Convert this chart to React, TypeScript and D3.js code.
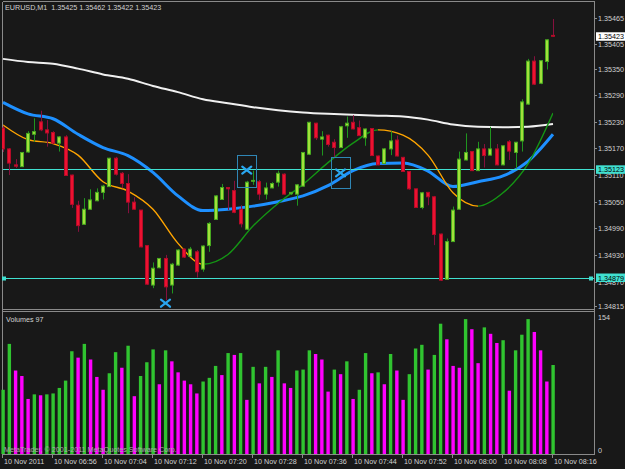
import React from 'react';
import * as d3 from 'd3';

const symbol = 'EURUSD,M1';
const timeTickBars = [0, 8, 16, 24, 32, 40, 48, 56, 64, 72, 80, 88];
const timeTickLabels = ['10 Nov 2011', '10 Nov 06:56', '10 Nov 07:04', '10 Nov 07:12', '10 Nov 07:20', '10 Nov 07:28',
  '10 Nov 07:36', '10 Nov 07:44', '10 Nov 07:52', '10 Nov 08:00', '10 Nov 08:08', '10 Nov 08:16'];
const priceTicks = [1.35465, 1.35405, 1.3535, 1.3529, 1.3523, 1.3517, 1.3511, 1.3505, 1.3499, 1.3493, 1.3487, 1.34815];
const volumeMax = 154;

const opens = [
  1.35216, 1.35169, 1.35133, 1.35129, 1.35162, 1.35202, 1.35230, 1.35212, 1.35206, 1.35182,
  1.35196, 1.35110, 1.35042, 1.34999, 1.35033, 1.35052, 1.35071, 1.35084, 1.35148, 1.35114,
  1.35091, 1.35049, 1.35031, 1.34951, 1.34862, 1.34901, 1.34922, 1.34862, 1.34907, 1.34943,
  1.34927, 1.34937, 1.34898, 1.34951, 1.35010, 1.35055, 1.35082, 1.35075, 1.35033, 1.34988,
  1.35096, 1.35095, 1.35067, 1.35081, 1.35094, 1.35112, 1.35068, 1.35067, 1.35085, 1.35157,
  1.35227, 1.35191, 1.35200, 1.35184, 1.35172, 1.35221, 1.35229, 1.35217, 1.35194, 1.35215,
  1.35153, 1.35136, 1.35169, 1.35189, 1.35150, 1.35118, 1.35079, 1.35037, 1.35071, 1.35061,
  1.34977, 1.34875, 1.34960, 1.35033, 1.35144, 1.35163, 1.35120, 1.35169, 1.35155, 1.35169,
  1.35133, 1.35185, 1.35161, 1.35187, 1.35270, 1.35367, 1.35317, 1.35366, 1.35425,
];
const highs = [
  1.35221, 1.35171, 1.35146, 1.35162, 1.35209, 1.35238, 1.35255, 1.35234, 1.35209, 1.35198,
  1.35200, 1.35111, 1.35052, 1.35058, 1.35078, 1.35080, 1.35088, 1.35149, 1.35151, 1.35117,
  1.35112, 1.35060, 1.35031, 1.34951, 1.34913, 1.34923, 1.34930, 1.34912, 1.34943, 1.34945,
  1.34948, 1.34941, 1.34952, 1.35004, 1.35065, 1.35090, 1.35083, 1.35097, 1.35042, 1.35097,
  1.35120, 1.35099, 1.35093, 1.35094, 1.35120, 1.35114, 1.35072, 1.35090, 1.35162, 1.35230,
  1.35228, 1.35209, 1.35201, 1.35191, 1.35221, 1.35242, 1.35245, 1.35233, 1.35215, 1.35216,
  1.35154, 1.35171, 1.35209, 1.35199, 1.35151, 1.35119, 1.35079, 1.35072, 1.35072, 1.35063,
  1.34978, 1.34967, 1.35039, 1.35163, 1.35204, 1.35164, 1.35185, 1.35180, 1.35219, 1.35180,
  1.35177, 1.35189, 1.35185, 1.35281, 1.35372, 1.35378, 1.35369, 1.35416, 1.35462,
];
const lows = [
  1.35162, 1.35110, 1.35126, 1.35128, 1.35160, 1.35185, 1.35209, 1.35174, 1.35180, 1.35163,
  1.35108, 1.35036, 1.34982, 1.34998, 1.35032, 1.35051, 1.35055, 1.35083, 1.35109, 1.35080,
  1.35024, 1.35032, 1.34947, 1.34862, 1.34855, 1.34900, 1.34828, 1.34843, 1.34905, 1.34923,
  1.34926, 1.34879, 1.34892, 1.34937, 1.35009, 1.35054, 1.35031, 1.35024, 1.34992, 1.34986,
  1.35088, 1.35054, 1.35055, 1.35080, 1.35084, 1.35066, 1.35065, 1.35041, 1.35084, 1.35155,
  1.35189, 1.35154, 1.35174, 1.35151, 1.35171, 1.35194, 1.35213, 1.35198, 1.35176, 1.35153,
  1.35132, 1.35135, 1.35155, 1.35152, 1.35117, 1.35077, 1.35036, 1.35033, 1.35042, 1.34952,
  1.34871, 1.34874, 1.34959, 1.35032, 1.35143, 1.35119, 1.35119, 1.35127, 1.35154, 1.35132,
  1.35132, 1.35144, 1.35125, 1.35163, 1.35268, 1.35313, 1.35315, 1.35348, 1.35422,
];
const closes = [
  1.35169, 1.35137, 1.35130, 1.35161, 1.35204, 1.35208, 1.35212, 1.35205, 1.35182, 1.35196,
  1.35109, 1.35044, 1.34996, 1.35033, 1.35054, 1.35071, 1.35085, 1.35148, 1.35112, 1.35091,
  1.35049, 1.35033, 1.34948, 1.34864, 1.34900, 1.34922, 1.34858, 1.34909, 1.34941, 1.34925,
  1.34943, 1.34892, 1.34950, 1.35001, 1.35063, 1.35082, 1.35079, 1.35026, 1.35000, 1.35094,
  1.35098, 1.35067, 1.35081, 1.35091, 1.35114, 1.35067, 1.35071, 1.35088, 1.35161, 1.35229,
  1.35194, 1.35196, 1.35179, 1.35172, 1.35219, 1.35227, 1.35214, 1.35199, 1.35214, 1.35154,
  1.35133, 1.35169, 1.35187, 1.35153, 1.35118, 1.35079, 1.35037, 1.35070, 1.35061, 1.34976,
  1.34873, 1.34960, 1.35031, 1.35146, 1.35161, 1.35120, 1.35169, 1.35154, 1.35169, 1.35133,
  1.35176, 1.35164, 1.35184, 1.35275, 1.35367, 1.35315, 1.35368, 1.35415, 1.35423,
];
const volumes = [
  70, 120, 91, 85, 60, 65, 64, 65, 66, 72,
  80, 112, 105, 120, 103, 84, 70, 88, 111, 94,
  118, 63, 85, 100, 114, 76, 113, 101, 89, 80,
  76, 66, 79, 83, 96, 86, 110, 108, 110, 59,
  95, 77, 95, 84, 113, 77, 72, 91, 92, 113,
  109, 103, 68, 92, 87, 101, 60, 70, 110, 88,
  89, 76, 109, 91, 59, 87, 115, 119, 92, 108,
  142, 125, 96, 94, 147, 136, 99, 138, 131, 121,
  124, 69, 113, 130, 147, 133, 113, 79, 97,
];

// moving averages read every 4 bars
const maBars = [0, 4, 8, 12, 16, 20, 24, 28, 32, 36, 40, 44, 48, 52, 56, 60, 64, 68, 72, 76, 80, 84, 88];
const maSlow = [1.35372, 1.35365, 1.35361, 1.35350, 1.35337, 1.35327, 1.35311, 1.35297, 1.35281, 1.35272, 1.35263, 1.35256,
  1.35251, 1.35248, 1.35246, 1.35244, 1.35242, 1.35235, 1.35224, 1.35219, 1.35218, 1.35219, 1.35225];
const maMid = [1.35274, 1.35248, 1.35237, 1.35202, 1.35172, 1.35154, 1.35116, 1.35063, 1.35030, 1.35033, 1.35040, 1.35050,
  1.35063, 1.35086, 1.35120, 1.35136, 1.35137, 1.35119, 1.35084, 1.35095, 1.35108, 1.35141, 1.35202];
const maFast = [1.35223, 1.35190, 1.35181, 1.35155, 1.35095, 1.35074, 1.35033, 1.34956, 1.34909, 1.34931, 1.34995, 1.35046,
  1.35089, 1.35138, 1.35182, 1.35212, 1.35200, 1.35155, 1.35070, 1.35040, 1.35070, 1.35135, 1.35250];

const levels = [1.35123, 1.34879];
const arrowMarks = [
  { bar: 26, price: 1.34821 },
  { bar: 39, price: 1.35121 },
  { bar: 54, price: 1.35115 },
];
const boxes = [
  { from: 37.5, to: 40.5, top: 1.35155, bottom: 1.35082 },
  { from: 52.5, to: 55.5, top: 1.35151, bottom: 1.35080 },
];

const W = 625;
const H = 469;
const BG = '#181818';
const FRAME = '#8a8a8a';
const TXT = '#d2d2d2';
const FONT = 'Liberation Sans, Arial, sans-serif';
const FS = 7.2;
const AXIS_X = 594.5;
const MAIN_TOP = 3;
const MAIN_BOTTOM = 309;
const VOL_TOP = 311;
const VOL_BOTTOM = 454;

const App = () => {
  const x = d3.scaleLinear().domain([0, 88]).range([3, 553]);
  const y = d3.scaleLinear().domain([1.34808, 1.35498]).range([MAIN_BOTTOM, MAIN_TOP]);
  const yv = d3.scaleLinear().domain([0, volumeMax]).range([VOL_BOTTOM, 312.7]);

  const maLine = d3.line<number>()
    .x((_, k) => x(maBars[k]))
    .y((v) => y(v))
    .curve(d3.curveMonotoneX);

  // split fast MA into rising / falling runs
  const runs: { from: number; to: number; up: boolean }[] = [];
  let start = 0;
  for (let k = 1; k < maFast.length; k++) {
    const up = maFast[k] >= maFast[k - 1];
    const nextUp = k + 1 < maFast.length ? maFast[k + 1] >= maFast[k] : null;
    if (nextUp === null || nextUp !== up) {
      runs.push({ from: start, to: k, up });
      start = k;
    }
  }

  const last = opens.length - 1;
  const title = `${symbol}  ${opens[last].toFixed(5)} ${highs[last].toFixed(5)} ${lows[last].toFixed(5)} ${closes[last].toFixed(5)}`;

  return (
    <svg width={W} height={H} style={{ position: 'absolute', left: 0, top: 0, display: 'block' }}
      fontFamily={FONT} fontSize={FS}>
      <defs>
        <clipPath id="mainClip">
          <rect x={2} y={MAIN_TOP} width={AXIS_X - 2} height={MAIN_BOTTOM - MAIN_TOP} />
        </clipPath>
        {runs.map((r, i) => (
          <clipPath key={i} id={`run${i}`}>
            <rect x={x(maBars[r.from])} y={0} width={x(maBars[r.to]) - x(maBars[r.from])} height={MAIN_BOTTOM} />
          </clipPath>
        ))}
      </defs>
      <rect width={W} height={H} fill={BG} />

      {/* frame */}
      <g stroke={FRAME} strokeWidth={1} shapeRendering="crispEdges" fill="none">
        <line x1={2.5} x2={AXIS_X} y1={1.5} y2={1.5} />
        <line x1={2.5} x2={2.5} y1={1.5} y2={VOL_BOTTOM + 0.5} />
        <line x1={AXIS_X} x2={AXIS_X} y1={1.5} y2={VOL_BOTTOM + 0.5} />
        <line x1={2.5} x2={AXIS_X} y1={MAIN_BOTTOM + 0.5} y2={MAIN_BOTTOM + 0.5} />
        <line x1={2.5} x2={AXIS_X} y1={VOL_TOP + 0.5} y2={VOL_TOP + 0.5} />
        <line x1={2.5} x2={AXIS_X} y1={VOL_BOTTOM + 0.5} y2={VOL_BOTTOM + 0.5} />
      </g>

      <g clipPath="url(#mainClip)">
        {/* moving averages */}
        <path d={maLine(maSlow) || ''} fill="none" stroke="#f0f0f0" strokeWidth={2} />
        <path d={maLine(maMid) || ''} fill="none" stroke="#1e90ff" strokeWidth={3} />
        {runs.map((r, i) => (
          <path key={i} d={maLine(maFast) || ''} clipPath={`url(#run${i})`} fill="none"
            stroke={r.up ? '#149414' : '#ffa500'} strokeWidth={1.4} />
        ))}

        {/* horizontal levels */}
        {levels.map((p) => (
          <line key={p} x1={3} x2={AXIS_X} y1={Math.round(y(p)) + 0.5} y2={Math.round(y(p)) + 0.5}
            stroke="#40e0d0" strokeWidth={1} />
        ))}
        <rect x={2} y={Math.round(y(levels[1])) - 1.5} width={4} height={4} fill="#40e0d0" />
        <rect x={589} y={Math.round(y(levels[1])) - 1.5} width={4} height={4} fill="#40e0d0" />

        {/* candles */}
        {opens.map((o, i) => {
          const c = closes[i];
          const up = c >= o;
          const cx = Math.round(x(i));
          const top = y(Math.max(o, c));
          const bot = y(Math.min(o, c));
          return (
            <g key={i}>
              <line x1={cx + 0.5} x2={cx + 0.5} y1={y(highs[i])} y2={y(lows[i])}
                stroke={up ? '#1f951f' : '#86103e'} strokeWidth={1} />
              <rect x={cx - 1.5} y={top} width={3} height={Math.max(bot - top, 0.6)}
                fill={up ? '#a2e03c' : '#ec1230'} stroke={up ? '#47a81f' : '#b30b28'} strokeWidth={1} />
            </g>
          );
        })}

        {/* boxes and arrows */}
        {boxes.map((b, i) => (
          <rect key={i} x={Math.round(x(b.from)) + 0.5} y={Math.round(y(b.top)) + 0.5}
            width={Math.round(x(b.to) - x(b.from))} height={Math.round(y(b.bottom) - y(b.top))}
            fill="none" stroke="#2f86b5" strokeWidth={1} />
        ))}
        {arrowMarks.map((m, i) => {
          const mx = x(m.bar);
          const my = y(m.price);
          return (
            <g key={i} stroke="#2aa6f0" strokeWidth={2.2} strokeLinecap="round">
              <line x1={mx - 4.5} y1={my - 3.5} x2={mx + 4.5} y2={my + 3.5} />
              <line x1={mx - 4.5} y1={my + 3.5} x2={mx + 4.5} y2={my - 3.5} />
            </g>
          );
        })}
      </g>

      {/* volumes */}
      {volumes.map((v, i) => {
        const up = i === 0 || v > volumes[i - 1];
        const cx = x(i);
        return (
          <rect key={i} x={cx - 1.6} y={yv(v)} width={3.4} height={yv(0) - yv(v)}
            fill={up ? '#30c430' : '#ff00ff'} />
        );
      })}

      {/* texts */}
      <text x={5} y={10.3} fill={TXT} style={{ whiteSpace: 'pre' }}>{title}</text>
      <text x={6} y={322} fill={TXT}>{`Volumes ${volumes[last]}`}</text>
      <text x={4} y={451.5} fill="#a9a9a9">MetaTrader, © 2001-2011 MetaQuotes Software Corp.</text>

      {/* price axis */}
      {priceTicks.map((p) => (
        <g key={p}>
          <line x1={AXIS_X} x2={597} y1={Math.round(y(p)) + 0.5} y2={Math.round(y(p)) + 0.5} stroke={FRAME} />
          <text x={598} y={y(p) + 3} fill={TXT}>{p.toFixed(5)}</text>
        </g>
      ))}
      {levels.map((p) => (
        <g key={p}>
          <rect x={596} y={y(p) - 4} width={29} height={8.5} fill="#40e0d0" />
          <text x={598} y={y(p) + 3} fill="#000">{p.toFixed(5)}</text>
        </g>
      ))}
      <rect x={596} y={y(closes[last]) - 4} width={29} height={8.5} fill="#ffffff" />
      <text x={598} y={y(closes[last]) + 3} fill="#000">{closes[last].toFixed(5)}</text>

      {/* volume axis */}
      <text x={598} y={yv(volumeMax) + 7} fill={TXT}>{volumeMax}</text>
      <text x={598} y={yv(0) - 1} fill={TXT}>0</text>

      {/* time axis */}
      {timeTickBars.map((b, i) => {
        const tx = Math.round(x(b)) - 0.5;
        return (
          <g key={b}>
            <line x1={tx} x2={tx} y1={VOL_BOTTOM} y2={VOL_BOTTOM + 4} stroke={FRAME} />
            <text x={tx + 1.5} y={464.3} fill={TXT}>{timeTickLabels[i]}</text>
          </g>
        );
      })}
    </svg>
  );
};

export default App;
